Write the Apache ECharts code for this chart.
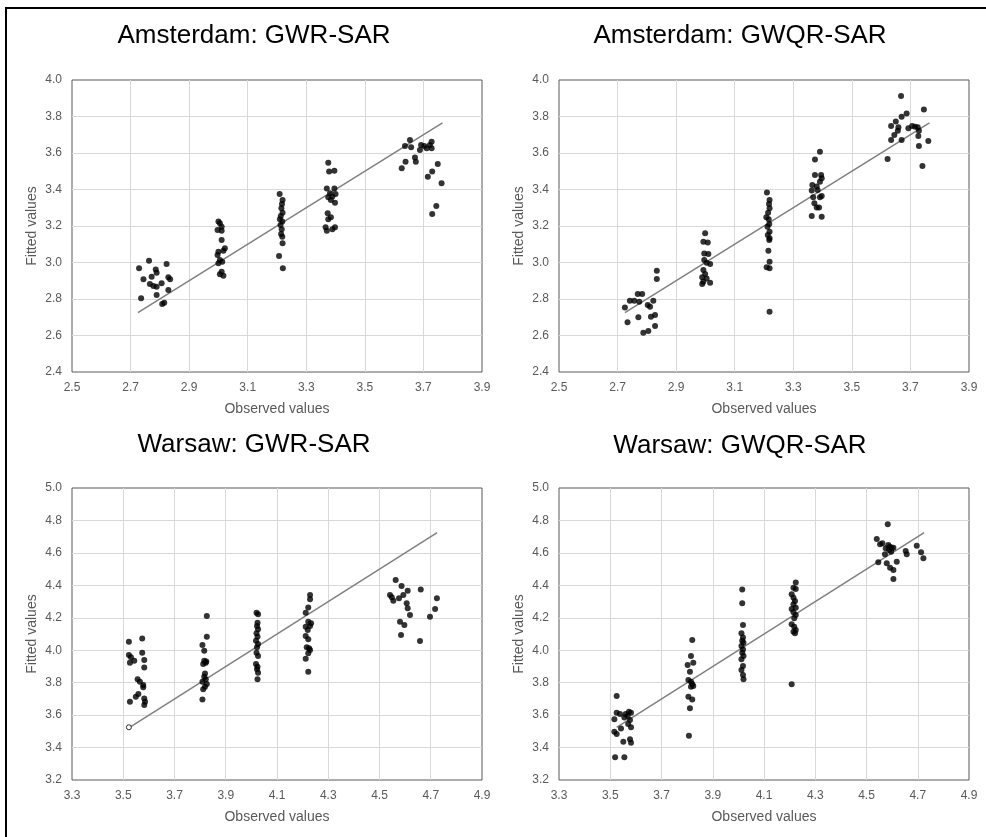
<!DOCTYPE html>
<html>
<head>
<meta charset="utf-8">
<title>Observed vs fitted values</title>
<script src="https://cdn.jsdelivr.net/npm/echarts@6.0.0/dist/echarts.min.js"></script>
<style>
  html, body { margin: 0; padding: 0; background: #fff; }
  #chart { width: 986px; height: 837px; }
</style>
</head>
<body>
<div id="chart"></div>
<script>
// panel titles
var panelTitles = ['Amsterdam: GWR-SAR', 'Amsterdam: GWQR-SAR', 'Warsaw: GWR-SAR', 'Warsaw: GWQR-SAR'];

// axis ranges and tick labels
var amsObsTicks = [2.5, 2.7, 2.9, 3.1, 3.3, 3.5, 3.7, 3.9];
var amsFitTicks = [2.4, 2.6, 2.8, 3.0, 3.2, 3.4, 3.6, 3.8, 4.0];
var warObsTicks = [3.3, 3.5, 3.7, 3.9, 4.1, 4.3, 4.5, 4.7, 4.9];
var warFitTicks = [3.2, 3.4, 3.6, 3.8, 4.0, 4.2, 4.4, 4.6, 4.8, 5.0];

// 45 degree reference line (observed = fitted), start and end
var amsDiagonal = [2.725, 3.765];
var warDiagonal = [3.525, 4.725];

// [observed, fitted] pairs
var amsGwr = [
  [2.729,2.968],[2.763,3.010],[2.744,2.908],[2.786,2.962],[2.789,2.944],[2.772,2.922],
  [2.766,2.882],[2.778,2.871],[2.789,2.867],[2.806,2.886],[2.823,2.992],[2.829,2.919],
  [2.835,2.908],[2.829,2.849],[2.789,2.822],[2.736,2.804],[2.808,2.773],[2.815,2.780],
  [3.000,3.224],[3.005,3.215],[3.011,3.196],[2.997,3.178],[3.011,3.174],[3.011,3.123],
  [3.022,3.078],[3.017,3.065],[3.000,3.059],[2.997,3.041],[3.005,3.014],[3.013,3.004],
  [3.000,2.996],[3.011,2.950],[3.005,2.935],[3.017,2.928],
  [3.209,3.375],[3.219,3.342],[3.217,3.321],[3.215,3.297],[3.219,3.273],[3.213,3.255],
  [3.210,3.237],[3.218,3.224],[3.212,3.205],[3.216,3.182],[3.214,3.156],[3.218,3.141],
  [3.219,3.105],[3.207,3.036],[3.220,2.968],
  [3.375,3.547],[3.378,3.498],[3.396,3.503],[3.370,3.406],[3.396,3.406],[3.381,3.379],
  [3.375,3.357],[3.389,3.361],[3.400,3.375],[3.384,3.342],[3.398,3.328],[3.373,3.270],
  [3.375,3.237],[3.384,3.248],[3.366,3.193],[3.370,3.174],[3.389,3.182],[3.398,3.193],
  [3.654,3.671],[3.637,3.638],[3.658,3.631],[3.692,3.644],[3.703,3.638],[3.722,3.644],
  [3.728,3.662],[3.711,3.626],[3.728,3.626],[3.688,3.616],[3.671,3.576],[3.674,3.552],
  [3.639,3.552],[3.626,3.516],[3.749,3.540],[3.730,3.498],[3.715,3.470],[3.762,3.434],
  [3.744,3.310],[3.730,3.266]
];

var amsGwqr = [
  [2.725,2.754],[2.734,2.672],[2.742,2.791],[2.757,2.791],[2.769,2.827],[2.771,2.700],
  [2.774,2.785],[2.784,2.827],[2.788,2.615],[2.803,2.767],[2.805,2.625],[2.811,2.758],
  [2.814,2.703],[2.822,2.791],[2.828,2.712],[2.828,2.652],[2.834,2.955],[2.834,2.910],
  [2.999,3.160],[2.993,3.114],[3.008,3.109],[2.996,3.050],[3.010,3.047],[2.996,3.014],
  [3.004,2.999],[3.016,2.992],[2.993,2.959],[2.999,2.937],[2.989,2.919],[3.004,2.913],
  [2.993,2.895],[2.989,2.882],[3.016,2.889],
  [3.210,3.383],[3.219,3.342],[3.217,3.321],[3.219,3.297],[3.214,3.273],[3.208,3.248],
  [3.216,3.237],[3.218,3.211],[3.212,3.196],[3.219,3.169],[3.213,3.151],[3.219,3.133],
  [3.218,3.123],[3.215,3.065],[3.219,3.004],[3.209,2.974],[3.219,2.968],[3.219,2.730],
  [3.391,3.607],[3.374,3.565],[3.374,3.479],[3.395,3.479],[3.397,3.461],[3.365,3.425],
  [3.380,3.416],[3.391,3.443],[3.363,3.394],[3.383,3.397],[3.368,3.357],[3.391,3.357],
  [3.397,3.364],[3.372,3.324],[3.380,3.302],[3.388,3.302],[3.363,3.255],[3.397,3.251],
  [3.668,3.912],[3.687,3.817],[3.670,3.799],[3.746,3.839],[3.650,3.772],[3.634,3.748],
  [3.659,3.741],[3.657,3.722],[3.645,3.699],[3.634,3.671],[3.670,3.671],[3.693,3.735],
  [3.706,3.748],[3.716,3.744],[3.725,3.741],[3.729,3.722],[3.727,3.693],[3.761,3.666],
  [3.729,3.638],[3.741,3.529],[3.622,3.567]
];

var warGwr = [
  [3.522,4.052],[3.574,4.073],[3.522,3.970],[3.530,3.956],[3.526,3.923],[3.543,3.935],
  [3.574,3.985],[3.582,3.940],[3.582,3.894],[3.556,3.821],[3.565,3.806],[3.578,3.785],
  [3.578,3.771],[3.559,3.730],[3.549,3.713],[3.526,3.682],[3.582,3.703],[3.585,3.682],
  [3.582,3.662],
  [3.826,4.211],[3.826,4.083],[3.809,4.032],[3.816,3.997],[3.816,3.935],[3.822,3.923],
  [3.812,3.915],[3.824,3.930],[3.819,3.857],[3.816,3.837],[3.822,3.821],[3.809,3.806],
  [3.826,3.792],[3.819,3.775],[3.812,3.759],[3.809,3.697],
  [4.020,4.231],[4.026,4.221],[4.024,4.170],[4.022,4.149],[4.026,4.129],[4.020,4.104],
  [4.024,4.083],[4.018,4.059],[4.026,4.038],[4.022,4.018],[4.020,3.985],[4.026,3.964],
  [4.018,3.915],[4.024,3.898],[4.022,3.882],[4.026,3.861],[4.024,3.821],
  [4.229,4.340],[4.229,4.314],[4.222,4.264],[4.212,4.231],[4.222,4.176],[4.212,4.145],
  [4.229,4.149],[4.233,4.166],[4.220,4.125],[4.212,4.088],[4.222,4.067],[4.216,4.018],
  [4.225,4.012],[4.229,4.001],[4.222,3.981],[4.212,3.948],[4.222,3.867],
  [4.563,4.433],[4.541,4.340],[4.548,4.326],[4.554,4.305],[4.586,4.396],[4.593,4.340],
  [4.576,4.320],[4.610,4.367],[4.606,4.289],[4.610,4.258],[4.619,4.217],[4.580,4.176],
  [4.597,4.155],[4.584,4.094],[4.661,4.375],[4.658,4.057],[4.697,4.207],[4.717,4.254],
  [4.724,4.320]
];
// the hollow marker at the lower end of the Warsaw GWR-SAR line
var warGwrHollow = [[3.522,3.525]];

var warGwqr = [
  [3.525,3.718],[3.516,3.574],[3.525,3.615],[3.538,3.607],[3.516,3.498],[3.525,3.483],
  [3.542,3.518],[3.555,3.586],[3.560,3.607],[3.568,3.594],[3.573,3.621],[3.581,3.615],
  [3.577,3.570],[3.570,3.545],[3.581,3.525],[3.551,3.436],[3.577,3.451],[3.581,3.430],
  [3.519,3.340],[3.555,3.340],
  [3.820,4.063],[3.815,3.964],[3.824,3.923],[3.802,3.909],[3.811,3.868],[3.805,3.816],
  [3.815,3.806],[3.820,3.792],[3.815,3.775],[3.824,3.779],[3.805,3.713],[3.820,3.697],
  [3.811,3.642],[3.807,3.473],
  [4.015,4.375],[4.015,4.289],[4.018,4.155],[4.012,4.104],[4.018,4.079],[4.015,4.059],
  [4.020,4.046],[4.012,4.026],[4.018,4.005],[4.015,3.985],[4.020,3.964],[4.012,3.944],
  [4.018,3.903],[4.012,3.878],[4.018,3.847],[4.020,3.821],
  [4.224,4.418],[4.215,4.385],[4.224,4.377],[4.208,4.345],[4.215,4.324],[4.221,4.303],
  [4.215,4.283],[4.208,4.254],[4.224,4.262],[4.215,4.234],[4.224,4.217],[4.218,4.197],
  [4.208,4.160],[4.218,4.145],[4.224,4.125],[4.215,4.114],[4.221,4.104],[4.208,3.790],
  [4.583,4.776],[4.540,4.686],[4.553,4.653],[4.562,4.659],[4.575,4.628],[4.585,4.649],
  [4.592,4.638],[4.598,4.628],[4.605,4.632],[4.588,4.618],[4.596,4.607],[4.572,4.591],
  [4.653,4.612],[4.657,4.591],[4.696,4.644],[4.713,4.604],[4.722,4.567],[4.546,4.542],
  [4.579,4.536],[4.592,4.509],[4.605,4.494],[4.618,4.546],[4.605,4.439]
];

var chart = echarts.init(document.getElementById('chart'));

var FONT = '"Liberation Sans", Arial, sans-serif';
var gray = '#595959';

// layout of the four panels (pixels)
var layout = [
  { left: 72,  top: 80,  titleX: 254, titleY: 36 },
  { left: 559, top: 80,  titleX: 740, titleY: 36 },
  { left: 72,  top: 488, titleX: 254, titleY: 445 },
  { left: 559, top: 488, titleX: 740, titleY: 446 }
];

var panelData = [amsGwr, amsGwqr, warGwr, warGwqr];
var obsTicks = [amsObsTicks, amsObsTicks, warObsTicks, warObsTicks];
var fitTicks = [amsFitTicks, amsFitTicks, warFitTicks, warFitTicks];
var diagonals = [amsDiagonal, amsDiagonal, warDiagonal, warDiagonal];

var grids = [], xAxes = [], yAxes = [], series = [], graphics = [];

function fmt(v) { return v.toFixed(1); }

for (var i = 0; i < 4; i++) {
  grids.push({
    left: layout[i].left, top: layout[i].top, width: 410, height: 292,
    show: true, borderColor: gray, borderWidth: 1, backgroundColor: '#fff'
  });
  var xt = obsTicks[i], yt = fitTicks[i];
  xAxes.push({
    gridIndex: i, type: 'value',
    min: xt[0], max: xt[xt.length - 1], interval: 0.2,
    name: 'Observed values', nameLocation: 'middle', nameGap: 30,
    nameTextStyle: { color: gray, fontSize: 14, fontFamily: FONT },
    axisLine: { show: false }, axisTick: { show: false },
    axisLabel: { color: gray, fontSize: 12, fontFamily: FONT, margin: 10, formatter: fmt },
    splitLine: { show: true, showMinLine: false, showMaxLine: false, lineStyle: { color: '#d9d9d9', width: 1 } }
  });
  yAxes.push({
    gridIndex: i, type: 'value',
    min: yt[0], max: yt[yt.length - 1], interval: 0.2,
    name: 'Fitted values', nameLocation: 'middle', nameGap: 33, nameRotate: 90,
    nameTextStyle: { color: gray, fontSize: 14, fontFamily: FONT },
    axisLine: { show: false }, axisTick: { show: false },
    axisLabel: { color: gray, fontSize: 12, fontFamily: FONT, margin: 10, formatter: fmt },
    splitLine: { show: true, showMinLine: false, showMaxLine: false, lineStyle: { color: '#d9d9d9', width: 1 } }
  });
  var d = diagonals[i];
  series.push({
    type: 'line', xAxisIndex: i, yAxisIndex: i,
    data: [[d[0], d[0]], [d[1], d[1]]],
    symbol: 'none', silent: true, z: 2,
    lineStyle: { color: '#808080', width: 1.5 }
  });
  series.push({
    type: 'scatter', xAxisIndex: i, yAxisIndex: i,
    data: panelData[i], symbolSize: 6, z: 3,
    itemStyle: { color: '#000' }
  });
  graphics.push({
    type: 'text', x: layout[i].titleX, y: layout[i].titleY,
    style: {
      text: panelTitles[i], font: '26px ' + FONT, fill: '#000',
      textAlign: 'center', textVerticalAlign: 'middle'
    }
  });
}

series.push({
  type: 'scatter', xAxisIndex: 2, yAxisIndex: 2,
  data: warGwrHollow, symbol: 'circle', symbolSize: 5, z: 4,
  itemStyle: { color: '#fff', borderColor: '#000', borderWidth: 1 }
});

// figure frame (top and left edges only are visible in the source)
graphics.push({
  type: 'polyline',
  shape: { points: [[986, 8], [6, 8], [6, 837]] },
  style: { stroke: '#000', lineWidth: 2, fill: null }
});

chart.setOption({
  backgroundColor: '#fff',
  animation: false,
  grid: grids,
  xAxis: xAxes,
  yAxis: yAxes,
  series: series,
  graphic: graphics
});
</script>
</body>
</html>
